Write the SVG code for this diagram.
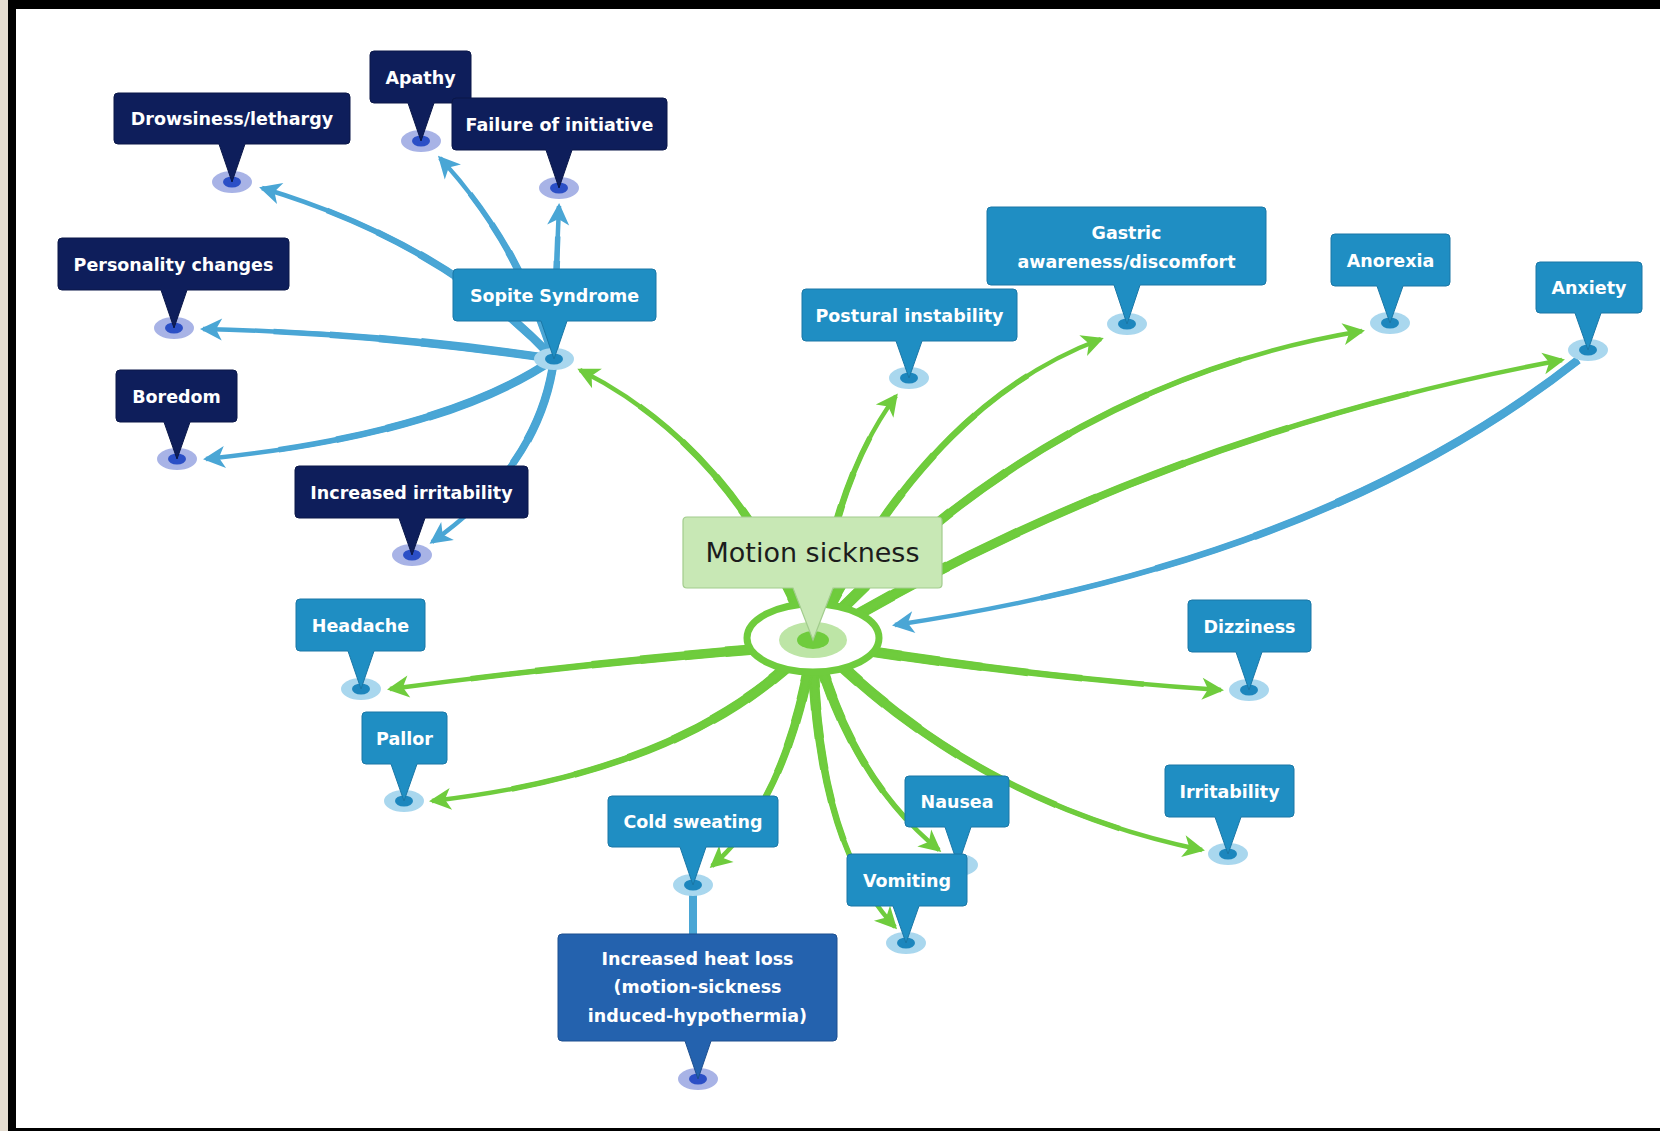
<svg xmlns="http://www.w3.org/2000/svg" width="1660" height="1131" viewBox="0 0 1660 1131">
  <style>
    .lbl { font-family: "DejaVu Sans", Verdana, sans-serif; font-weight: bold; font-size: 17.5px; fill: #ffffff; text-anchor: middle; }
    .main-lbl { font-family: "DejaVu Sans", Verdana, sans-serif; font-size: 27px; fill: #1c1c1c; text-anchor: middle; }
    .navy .box { fill: #0e1e5b; stroke: #0a1748; stroke-width: 1; }
    .blue .box { fill: #1f8ec3; stroke: #1a77a6; stroke-width: 1; }
    .heat .box { fill: #2462ae; stroke: #1d4f8f; stroke-width: 1; }
    .navy .pin-o, .heat .pin-o { fill: #a8b3e6; }
    .navy .pin-i, .heat .pin-i { fill: #2b4fc6; }
    .blue .pin-o { fill: #a9d7ee; }
    .blue .pin-i { fill: #1c86bd; }
    .edge use { fill: none; stroke-linecap: butt; }
    .g use { stroke: #6fcc3d; }
    .b use { stroke: #4aa6d5; }
    /* tapered strokes: each layer covers a shorter share of the path */
    .t0 { stroke-width: 4.5; }
    .g .t0 { marker-end: url(#arrow-g); }
    .b .t0 { marker-end: url(#arrow-b); }
    .t1 { stroke-width: 5.5; stroke-dasharray: 80 300; }
    .t2 { stroke-width: 6.5; stroke-dasharray: 64 300; }
    .t3 { stroke-width: 7.5; stroke-dasharray: 50 300; }
    .t4 { stroke-width: 8.5; stroke-dasharray: 38 300; }
    .t5 { stroke-width: 9.5; stroke-dasharray: 27 300; }
    .t6 { stroke-width: 10.5; stroke-dasharray: 17 300; }
    .t7 { stroke-width: 11.5; stroke-dasharray: 9 300; }
  </style>
  <defs>
    <marker id="arrow-g" viewBox="-22 -12 26 24" refX="0" refY="0" markerWidth="26" markerHeight="24" markerUnits="userSpaceOnUse" orient="auto" overflow="visible">
      <path d="M3,0 L-19,-11 L-13,0 L-19,11 Z" fill="#6fcc3d"/>
    </marker>
    <marker id="arrow-b" viewBox="-22 -12 26 24" refX="0" refY="0" markerWidth="26" markerHeight="24" markerUnits="userSpaceOnUse" orient="auto" overflow="visible">
      <path d="M3,0 L-19,-11 L-13,0 L-19,11 Z" fill="#4aa6d5"/>
    </marker>
    <!-- edge geometry, shared by the tapered stroke layers -->
    <path id="e-ms-sopite" pathLength="100" d="M805,625 Q730,445 580,370"/>
    <path id="e-ms-postural" pathLength="100" d="M815,625 Q836,476 896,396"/>
    <path id="e-ms-gastric" pathLength="100" d="M820,625 Q932,402 1101,339"/>
    <path id="e-ms-anorexia" pathLength="100" d="M826,625 Q1059,381 1362,331"/>
    <path id="e-ms-anxiety" pathLength="100" d="M831,630 Q1165,434 1562,360"/>
    <path id="e-ms-dizziness" pathLength="100" d="M836,646 Q1037,678 1221,690"/>
    <path id="e-ms-irritability" pathLength="100" d="M831,656 Q985,805 1202,850"/>
    <path id="e-ms-nausea" pathLength="100" d="M820,662 Q857,783 939,850"/>
    <path id="e-ms-vomiting" pathLength="100" d="M813,662 Q820,847 895,927"/>
    <path id="e-ms-coldsweat" pathLength="100" d="M810,662 Q783,805 712,866"/>
    <path id="e-ms-headache" pathLength="100" d="M794,646 Q593,662 390,689"/>
    <path id="e-ms-pallor" pathLength="100" d="M799,656 Q678,773 432,801"/>
    <path id="e-anxiety-ms" pathLength="100" d="M1578,360 Q1323,561 895,625"/>
    <path id="e-ss-drowsiness" pathLength="100" d="M554,359 Q445,243 262,188"/>
    <path id="e-ss-apathy" pathLength="100" d="M554,359 Q520,245 440,158"/>
    <path id="e-ss-failure" pathLength="100" d="M554,359 Q556,275 559,206"/>
    <path id="e-ss-personality" pathLength="100" d="M554,359 Q381,333 203,329"/>
    <path id="e-ss-boredom" pathLength="100" d="M554,359 Q445,434 206,459"/>
    <path id="e-ss-irritability" pathLength="100" d="M554,359 Q540,466 432,542"/>
  </defs>

  <!-- page frame -->
  <rect x="0" y="0" width="1660" height="1131" fill="#e4dcd0"/>
  <rect x="8" y="0" width="1652" height="1131" fill="#000000"/>
  <rect x="16" y="9" width="1644" height="1119" fill="#ffffff"/>

  <g id="connectors">
    <g class="edge g"><use href="#e-ms-sopite" class="t7"/><use href="#e-ms-sopite" class="t6"/><use href="#e-ms-sopite" class="t5"/><use href="#e-ms-sopite" class="t4"/><use href="#e-ms-sopite" class="t3"/><use href="#e-ms-sopite" class="t2"/><use href="#e-ms-sopite" class="t1"/><use href="#e-ms-sopite" class="t0"/></g>
    <g class="edge g"><use href="#e-ms-postural" class="t7"/><use href="#e-ms-postural" class="t6"/><use href="#e-ms-postural" class="t5"/><use href="#e-ms-postural" class="t4"/><use href="#e-ms-postural" class="t3"/><use href="#e-ms-postural" class="t2"/><use href="#e-ms-postural" class="t1"/><use href="#e-ms-postural" class="t0"/></g>
    <g class="edge g"><use href="#e-ms-gastric" class="t7"/><use href="#e-ms-gastric" class="t6"/><use href="#e-ms-gastric" class="t5"/><use href="#e-ms-gastric" class="t4"/><use href="#e-ms-gastric" class="t3"/><use href="#e-ms-gastric" class="t2"/><use href="#e-ms-gastric" class="t1"/><use href="#e-ms-gastric" class="t0"/></g>
    <g class="edge g"><use href="#e-ms-anorexia" class="t7"/><use href="#e-ms-anorexia" class="t6"/><use href="#e-ms-anorexia" class="t5"/><use href="#e-ms-anorexia" class="t4"/><use href="#e-ms-anorexia" class="t3"/><use href="#e-ms-anorexia" class="t2"/><use href="#e-ms-anorexia" class="t1"/><use href="#e-ms-anorexia" class="t0"/></g>
    <g class="edge g"><use href="#e-ms-anxiety" class="t7"/><use href="#e-ms-anxiety" class="t6"/><use href="#e-ms-anxiety" class="t5"/><use href="#e-ms-anxiety" class="t4"/><use href="#e-ms-anxiety" class="t3"/><use href="#e-ms-anxiety" class="t2"/><use href="#e-ms-anxiety" class="t1"/><use href="#e-ms-anxiety" class="t0"/></g>
    <g class="edge g"><use href="#e-ms-dizziness" class="t7"/><use href="#e-ms-dizziness" class="t6"/><use href="#e-ms-dizziness" class="t5"/><use href="#e-ms-dizziness" class="t4"/><use href="#e-ms-dizziness" class="t3"/><use href="#e-ms-dizziness" class="t2"/><use href="#e-ms-dizziness" class="t1"/><use href="#e-ms-dizziness" class="t0"/></g>
    <g class="edge g"><use href="#e-ms-irritability" class="t7"/><use href="#e-ms-irritability" class="t6"/><use href="#e-ms-irritability" class="t5"/><use href="#e-ms-irritability" class="t4"/><use href="#e-ms-irritability" class="t3"/><use href="#e-ms-irritability" class="t2"/><use href="#e-ms-irritability" class="t1"/><use href="#e-ms-irritability" class="t0"/></g>
    <g class="edge g"><use href="#e-ms-nausea" class="t7"/><use href="#e-ms-nausea" class="t6"/><use href="#e-ms-nausea" class="t5"/><use href="#e-ms-nausea" class="t4"/><use href="#e-ms-nausea" class="t3"/><use href="#e-ms-nausea" class="t2"/><use href="#e-ms-nausea" class="t1"/><use href="#e-ms-nausea" class="t0"/></g>
    <g class="edge g"><use href="#e-ms-vomiting" class="t7"/><use href="#e-ms-vomiting" class="t6"/><use href="#e-ms-vomiting" class="t5"/><use href="#e-ms-vomiting" class="t4"/><use href="#e-ms-vomiting" class="t3"/><use href="#e-ms-vomiting" class="t2"/><use href="#e-ms-vomiting" class="t1"/><use href="#e-ms-vomiting" class="t0"/></g>
    <g class="edge g"><use href="#e-ms-coldsweat" class="t7"/><use href="#e-ms-coldsweat" class="t6"/><use href="#e-ms-coldsweat" class="t5"/><use href="#e-ms-coldsweat" class="t4"/><use href="#e-ms-coldsweat" class="t3"/><use href="#e-ms-coldsweat" class="t2"/><use href="#e-ms-coldsweat" class="t1"/><use href="#e-ms-coldsweat" class="t0"/></g>
    <g class="edge g"><use href="#e-ms-headache" class="t7"/><use href="#e-ms-headache" class="t6"/><use href="#e-ms-headache" class="t5"/><use href="#e-ms-headache" class="t4"/><use href="#e-ms-headache" class="t3"/><use href="#e-ms-headache" class="t2"/><use href="#e-ms-headache" class="t1"/><use href="#e-ms-headache" class="t0"/></g>
    <g class="edge g"><use href="#e-ms-pallor" class="t7"/><use href="#e-ms-pallor" class="t6"/><use href="#e-ms-pallor" class="t5"/><use href="#e-ms-pallor" class="t4"/><use href="#e-ms-pallor" class="t3"/><use href="#e-ms-pallor" class="t2"/><use href="#e-ms-pallor" class="t1"/><use href="#e-ms-pallor" class="t0"/></g>

    <g class="edge b"><use href="#e-anxiety-ms" class="t4"/><use href="#e-anxiety-ms" class="t3"/><use href="#e-anxiety-ms" class="t2"/><use href="#e-anxiety-ms" class="t1"/><use href="#e-anxiety-ms" class="t0"/></g>
    <g class="edge b"><use href="#e-ss-drowsiness" class="t4"/><use href="#e-ss-drowsiness" class="t3"/><use href="#e-ss-drowsiness" class="t2"/><use href="#e-ss-drowsiness" class="t1"/><use href="#e-ss-drowsiness" class="t0"/></g>
    <g class="edge b"><use href="#e-ss-apathy" class="t4"/><use href="#e-ss-apathy" class="t3"/><use href="#e-ss-apathy" class="t2"/><use href="#e-ss-apathy" class="t1"/><use href="#e-ss-apathy" class="t0"/></g>
    <g class="edge b"><use href="#e-ss-failure" class="t4"/><use href="#e-ss-failure" class="t3"/><use href="#e-ss-failure" class="t2"/><use href="#e-ss-failure" class="t1"/><use href="#e-ss-failure" class="t0"/></g>
    <g class="edge b"><use href="#e-ss-personality" class="t4"/><use href="#e-ss-personality" class="t3"/><use href="#e-ss-personality" class="t2"/><use href="#e-ss-personality" class="t1"/><use href="#e-ss-personality" class="t0"/></g>
    <g class="edge b"><use href="#e-ss-boredom" class="t4"/><use href="#e-ss-boredom" class="t3"/><use href="#e-ss-boredom" class="t2"/><use href="#e-ss-boredom" class="t1"/><use href="#e-ss-boredom" class="t0"/></g>
    <g class="edge b"><use href="#e-ss-irritability" class="t4"/><use href="#e-ss-irritability" class="t3"/><use href="#e-ss-irritability" class="t2"/><use href="#e-ss-irritability" class="t1"/><use href="#e-ss-irritability" class="t0"/></g>

    <!-- cold sweating to heat loss -->
    <path d="M693,885 L693,945" fill="none" stroke="#4aa6d5" stroke-width="8"/>
  </g>

  <!-- central node -->
  <g id="node-motion-sickness">
    <ellipse cx="813" cy="638" rx="66" ry="34" fill="#ffffff" stroke="#6fcc3d" stroke-width="7"/>
    <ellipse cx="813" cy="640" rx="34" ry="18" fill="#bde5a6"/>
    <ellipse cx="813" cy="640" rx="16" ry="9" fill="#6fcc3d"/>
    <path d="M687,517 H938 Q942,517 942,521 V584 Q942,588 938,588 H833 L813,640 L793,588 H687 Q683,588 683,584 V521 Q683,517 687,517 Z" fill="#c8e8b5" stroke="#a2cc8d" stroke-width="1.2"/>
    <text class="main-lbl" x="812.5" y="561.5">Motion sickness</text>
  </g>

  <g id="node-sopite" class="blue">
    <ellipse class="pin-o" cx="554" cy="359" rx="20" ry="11"/><ellipse class="pin-i" cx="554" cy="359" rx="9" ry="5.5"/>
    <path class="box" d="M457,269 H652 Q656,269 656,273 V317 Q656,321 652,321 H567 L554,359 L541,321 H457 Q453,321 453,317 V273 Q453,269 457,269 Z"/>
    <text class="lbl" x="554.5" y="301.5">Sopite Syndrome</text>
  </g>

  <g id="node-drowsiness" class="navy">
    <ellipse class="pin-o" cx="232" cy="182" rx="20" ry="11"/><ellipse class="pin-i" cx="232" cy="182" rx="9" ry="5.5"/>
    <path class="box" d="M118,93 H346 Q350,93 350,97 V140 Q350,144 346,144 H245 L232,182 L219,144 H118 Q114,144 114,140 V97 Q114,93 118,93 Z"/>
    <text class="lbl" x="232" y="125">Drowsiness/lethargy</text>
  </g>

  <g id="node-apathy" class="navy">
    <ellipse class="pin-o" cx="421" cy="141" rx="20" ry="11"/><ellipse class="pin-i" cx="421" cy="141" rx="9" ry="5.5"/>
    <path class="box" d="M374,51 H467 Q471,51 471,55 V99 Q471,103 467,103 H434 L421,141 L408,103 H374 Q370,103 370,99 V55 Q370,51 374,51 Z"/>
    <text class="lbl" x="420.5" y="83.5">Apathy</text>
  </g>

  <g id="node-failure" class="navy">
    <ellipse class="pin-o" cx="559" cy="188" rx="20" ry="11"/><ellipse class="pin-i" cx="559" cy="188" rx="9" ry="5.5"/>
    <path class="box" d="M456,98 H663 Q667,98 667,102 V146 Q667,150 663,150 H572 L559,188 L546,150 H456 Q452,150 452,146 V102 Q452,98 456,98 Z"/>
    <text class="lbl" x="559.5" y="130.5">Failure of initiative</text>
  </g>

  <g id="node-personality" class="navy">
    <ellipse class="pin-o" cx="174" cy="328" rx="20" ry="11"/><ellipse class="pin-i" cx="174" cy="328" rx="9" ry="5.5"/>
    <path class="box" d="M62,238 H285 Q289,238 289,242 V286 Q289,290 285,290 H187 L174,328 L161,290 H62 Q58,290 58,286 V242 Q58,238 62,238 Z"/>
    <text class="lbl" x="173.5" y="270.5">Personality changes</text>
  </g>

  <g id="node-boredom" class="navy">
    <ellipse class="pin-o" cx="177" cy="459" rx="20" ry="11"/><ellipse class="pin-i" cx="177" cy="459" rx="9" ry="5.5"/>
    <path class="box" d="M120,370 H233 Q237,370 237,374 V418 Q237,422 233,422 H190 L177,459 L164,422 H120 Q116,422 116,418 V374 Q116,370 120,370 Z"/>
    <text class="lbl" x="176.5" y="402.5">Boredom</text>
  </g>

  <g id="node-increased-irritability" class="navy">
    <ellipse class="pin-o" cx="412" cy="555" rx="20" ry="11"/><ellipse class="pin-i" cx="412" cy="555" rx="9" ry="5.5"/>
    <path class="box" d="M299,466 H524 Q528,466 528,470 V514 Q528,518 524,518 H425 L412,555 L399,518 H299 Q295,518 295,514 V470 Q295,466 299,466 Z"/>
    <text class="lbl" x="411.5" y="498.5">Increased irritability</text>
  </g>

  <g id="node-postural" class="blue">
    <ellipse class="pin-o" cx="909" cy="378" rx="20" ry="11"/><ellipse class="pin-i" cx="909" cy="378" rx="9" ry="5.5"/>
    <path class="box" d="M806,289 H1013 Q1017,289 1017,293 V337 Q1017,341 1013,341 H922 L909,378 L896,341 H806 Q802,341 802,337 V293 Q802,289 806,289 Z"/>
    <text class="lbl" x="909.5" y="321.5">Postural instability</text>
  </g>

  <g id="node-gastric" class="blue">
    <ellipse class="pin-o" cx="1127" cy="324" rx="20" ry="11"/><ellipse class="pin-i" cx="1127" cy="324" rx="9" ry="5.5"/>
    <path class="box" d="M991,207 H1262 Q1266,207 1266,211 V281 Q1266,285 1262,285 H1140 L1127,324 L1114,285 H991 Q987,285 987,281 V211 Q987,207 991,207 Z"/>
    <text class="lbl" x="1126.5" y="238.5">Gastric</text>
    <text class="lbl" x="1126.5" y="268">awareness/discomfort</text>
  </g>

  <g id="node-anorexia" class="blue">
    <ellipse class="pin-o" cx="1390" cy="323" rx="20" ry="11"/><ellipse class="pin-i" cx="1390" cy="323" rx="9" ry="5.5"/>
    <path class="box" d="M1335,234 H1446 Q1450,234 1450,238 V282 Q1450,286 1446,286 H1403 L1390,323 L1377,286 H1335 Q1331,286 1331,282 V238 Q1331,234 1335,234 Z"/>
    <text class="lbl" x="1390.5" y="266.5">Anorexia</text>
  </g>

  <g id="node-anxiety" class="blue">
    <ellipse class="pin-o" cx="1588" cy="350" rx="20" ry="11"/><ellipse class="pin-i" cx="1588" cy="350" rx="9" ry="5.5"/>
    <path class="box" d="M1540,262 H1638 Q1642,262 1642,266 V309 Q1642,313 1638,313 H1601 L1588,350 L1575,313 H1540 Q1536,313 1536,309 V266 Q1536,262 1540,262 Z"/>
    <text class="lbl" x="1589" y="294">Anxiety</text>
  </g>

  <g id="node-dizziness" class="blue">
    <ellipse class="pin-o" cx="1249" cy="690" rx="20" ry="11"/><ellipse class="pin-i" cx="1249" cy="690" rx="9" ry="5.5"/>
    <path class="box" d="M1192,600 H1307 Q1311,600 1311,604 V648 Q1311,652 1307,652 H1262 L1249,690 L1236,652 H1192 Q1188,652 1188,648 V604 Q1188,600 1192,600 Z"/>
    <text class="lbl" x="1249.5" y="632.5">Dizziness</text>
  </g>

  <g id="node-headache" class="blue">
    <ellipse class="pin-o" cx="361" cy="689" rx="20" ry="11"/><ellipse class="pin-i" cx="361" cy="689" rx="9" ry="5.5"/>
    <path class="box" d="M300,599 H421 Q425,599 425,603 V647 Q425,651 421,651 H374 L361,689 L348,651 H300 Q296,651 296,647 V603 Q296,599 300,599 Z"/>
    <text class="lbl" x="360.5" y="631.5">Headache</text>
  </g>

  <g id="node-pallor" class="blue">
    <ellipse class="pin-o" cx="404" cy="801" rx="20" ry="11"/><ellipse class="pin-i" cx="404" cy="801" rx="9" ry="5.5"/>
    <path class="box" d="M366,712 H443 Q447,712 447,716 V760 Q447,764 443,764 H417 L404,801 L391,764 H366 Q362,764 362,760 V716 Q362,712 366,712 Z"/>
    <text class="lbl" x="404.5" y="744.5">Pallor</text>
  </g>

  <g id="node-cold-sweating" class="blue">
    <ellipse class="pin-o" cx="693" cy="885" rx="20" ry="11"/><ellipse class="pin-i" cx="693" cy="885" rx="9" ry="5.5"/>
    <path class="box" d="M612,796 H774 Q778,796 778,800 V843 Q778,847 774,847 H706 L693,885 L680,847 H612 Q608,847 608,843 V800 Q608,796 612,796 Z"/>
    <text class="lbl" x="693" y="828">Cold sweating</text>
  </g>

  <g id="node-irritability" class="blue">
    <ellipse class="pin-o" cx="1228" cy="854" rx="20" ry="11"/><ellipse class="pin-i" cx="1228" cy="854" rx="9" ry="5.5"/>
    <path class="box" d="M1169,765 H1290 Q1294,765 1294,769 V813 Q1294,817 1290,817 H1241 L1228,854 L1215,817 H1169 Q1165,817 1165,813 V769 Q1165,765 1169,765 Z"/>
    <text class="lbl" x="1229.5" y="797.5">Irritability</text>
  </g>

  <g id="node-nausea" class="blue">
    <ellipse class="pin-o" cx="958" cy="865" rx="20" ry="11"/><ellipse class="pin-i" cx="958" cy="865" rx="9" ry="5.5"/>
    <path class="box" d="M909,776 H1005 Q1009,776 1009,780 V823 Q1009,827 1005,827 H971 L958,865 L945,827 H909 Q905,827 905,823 V780 Q905,776 909,776 Z"/>
    <text class="lbl" x="957" y="808">Nausea</text>
  </g>

  <g id="node-vomiting" class="blue">
    <ellipse class="pin-o" cx="906" cy="943" rx="20" ry="11"/><ellipse class="pin-i" cx="906" cy="943" rx="9" ry="5.5"/>
    <path class="box" d="M851,854 H963 Q967,854 967,858 V902 Q967,906 963,906 H919 L906,943 L893,906 H851 Q847,906 847,902 V858 Q847,854 851,854 Z"/>
    <text class="lbl" x="907" y="886.5">Vomiting</text>
  </g>

  <g id="node-heat-loss" class="heat">
    <ellipse class="pin-o" cx="698" cy="1079" rx="20" ry="11"/><ellipse class="pin-i" cx="698" cy="1079" rx="9" ry="5.5"/>
    <path class="box" d="M562,934 H833 Q837,934 837,938 V1037 Q837,1041 833,1041 H711 L698,1079 L685,1041 H562 Q558,1041 558,1037 V938 Q558,934 562,934 Z"/>
    <text class="lbl" x="697.5" y="964.5">Increased heat loss</text>
    <text class="lbl" x="697.5" y="993">(motion-sickness</text>
    <text class="lbl" x="697.5" y="1021.5">induced-hypothermia)</text>
  </g>
</svg>
